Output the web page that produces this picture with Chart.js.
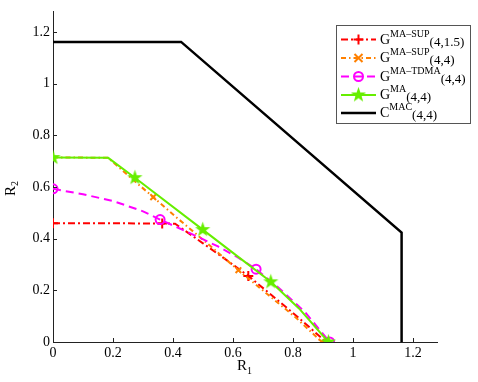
<!DOCTYPE html>
<html>
<head>
<meta charset="utf-8">
<script src="https://cdn.jsdelivr.net/npm/chart.js@4.4.1/dist/chart.umd.min.js"></script>
<style>
  html, body { margin: 0; padding: 0; background: #fff; }
  #wrap { width: 478px; height: 382px; }
</style>
</head>
<body>
<div id="wrap"><canvas id="rates" width="478" height="382"></canvas></div>
<script>
const xTicks = [0, 0.2, 0.4, 0.6, 0.8, 1, 1.2];
const yTicks = [0, 0.2, 0.4, 0.6, 0.8, 1, 1.2];

// G^{MA-SUP}(4,1.5)
const supLowR1 = [0, 0.364, 0.407, 0.5, 0.58, 0.651, 0.73, 0.82, 0.91];
const supLowR2 = [0.46, 0.459, 0.458, 0.382, 0.316, 0.256, 0.18, 0.093, 0];
const supLowMarkR1 = [0, 0.364, 0.651, 0.91];
const supLowMarkR2 = [0.46, 0.459, 0.256, 0];

// G^{MA-SUP}(4,4)
const supR1 = [0, 0.184, 0.27, 0.334, 0.42, 0.5, 0.618, 0.72, 0.81, 0.896];
const supR2 = [0.715, 0.713, 0.625, 0.561, 0.474, 0.396, 0.278, 0.18, 0.094, 0];
const supMarkR1 = [0.334, 0.618, 0.896];
const supMarkR2 = [0.561, 0.278, 0];

// G^{MA-TDMA}(4,4)
const tdmaR1 = [0, 0.1, 0.2, 0.3, 0.357, 0.45, 0.55, 0.62, 0.677, 0.75, 0.84, 0.922];
const tdmaR2 = [0.593, 0.572, 0.546, 0.506, 0.474, 0.425, 0.37, 0.325, 0.282, 0.212, 0.116, 0];
const tdmaMarkR1 = [0, 0.357, 0.677, 0.922];
const tdmaMarkR2 = [0.593, 0.474, 0.282, 0];

// G^{MA}(4,4)
const maR1 = [0, 0.184, 0.273, 0.499, 0.6, 0.726, 0.82, 0.918];
const maR2 = [0.714, 0.713, 0.636, 0.435, 0.345, 0.233, 0.13, 0];
const maMarkR1 = [0, 0.273, 0.499, 0.726, 0.918];
const maMarkR2 = [0.714, 0.636, 0.435, 0.233, 0];

// C^{MAC}(4,4)
const macR1 = [0, 0.427, 1.162, 1.162];
const macR2 = [1.162, 1.162, 0.424, 0];

const legendNames = [
  ['G', 'MA\u2013SUP', '(4,1.5)'],
  ['G', 'MA\u2013SUP', '(4,4)'],
  ['G', 'MA\u2013TDMA', '(4,4)'],
  ['G', 'MA', '(4,4)'],
  ['C', 'MAC', '(4,4)'],
];

const SERIF = '"Liberation Serif", "Times New Roman", serif';
const pts = (xs, ys) => xs.map((x, i) => ({ x, y: ys[i] }));

function starImage(color) {
  const c = document.createElement('canvas');
  c.width = 17; c.height = 17;
  const g = c.getContext('2d');
  g.beginPath();
  for (let i = 0; i < 10; i++) {
    const r = i % 2 ? 3.2 : 8;
    const a = -Math.PI / 2 + i * Math.PI / 5;
    g.lineTo(8.5 + r * Math.cos(a), 8.5 + r * Math.sin(a));
  }
  g.closePath();
  g.fillStyle = color;
  g.fill();
  return c;
}
const star = starImage('#66ee00');

const styles = [
  { color: '#ff0000', dash: [7, 3, 2, 3], width: 2, marker: 'cross', r: 5, z: 5 },
  { color: '#ff8000', dash: [5, 3, 1.5, 3], width: 2, marker: 'crossRot', r: 4, z: 4 },
  { color: '#ff00ff', dash: [8, 5], width: 2, marker: 'circle', r: 4.5, z: 3 },
  { color: '#66ee00', dash: [], width: 2, marker: star, r: 8, z: 2 },
  { color: '#000000', dash: [], width: 2.5, marker: null, r: 0, z: 1 },
];

const curves = [
  [pts(supLowR1, supLowR2), pts(supLowMarkR1, supLowMarkR2)],
  [pts(supR1, supR2), pts(supMarkR1, supMarkR2)],
  [pts(tdmaR1, tdmaR2), pts(tdmaMarkR1, tdmaMarkR2)],
  [pts(maR1, maR2), pts(maMarkR1, maMarkR2)],
  [pts(macR1, macR2), []],
];

const datasets = [];
curves.forEach(([line, marks], i) => {
  const s = styles[i];
  datasets.push({
    data: line, showLine: true, borderColor: s.color, borderWidth: s.width,
    borderDash: s.dash, pointRadius: 0, fill: false, order: s.z * 2,
  });
  if (marks.length) {
    datasets.push({
      data: marks, showLine: false, pointStyle: s.marker, pointRadius: s.r,
      borderColor: s.color, pointBorderWidth: 2,
      pointBackgroundColor: 'rgba(0,0,0,0)', order: s.z * 2 - 1,
    });
  }
});

function drawMarker(ctx, s, x, y) {
  if (!s.marker) return;
  ctx.save();
  ctx.setLineDash([]);
  ctx.strokeStyle = s.color;
  ctx.lineWidth = 2;
  ctx.beginPath();
  if (s.marker === 'cross') {
    ctx.moveTo(x - s.r, y); ctx.lineTo(x + s.r, y);
    ctx.moveTo(x, y - s.r); ctx.lineTo(x, y + s.r);
    ctx.stroke();
  } else if (s.marker === 'crossRot') {
    ctx.moveTo(x - s.r, y - s.r); ctx.lineTo(x + s.r, y + s.r);
    ctx.moveTo(x - s.r, y + s.r); ctx.lineTo(x + s.r, y - s.r);
    ctx.stroke();
  } else if (s.marker === 'circle') {
    ctx.arc(x, y, s.r, 0, Math.PI * 2);
    ctx.stroke();
  } else {
    ctx.drawImage(s.marker, x - s.marker.width / 2, y - s.marker.height / 2);
  }
  ctx.restore();
}

function richText(ctx, x, y, base, sup, sub) {
  ctx.font = '14px ' + SERIF;
  ctx.fillText(base, x, y + 4);
  x += ctx.measureText(base).width;
  ctx.font = '10px ' + SERIF;
  ctx.fillText(sup, x, y - 3);
  const w = ctx.measureText(sup).width;
  ctx.font = '13px ' + SERIF;
  ctx.fillText(sub, x + w, y + 6);
}

const overlay = {
  id: 'overlay',
  afterDraw(chart) {
    const ctx = chart.ctx;
    const a = chart.chartArea;
    const xs = chart.scales.x, ys = chart.scales.y;
    ctx.save();
    // inward ticks
    ctx.strokeStyle = '#222';
    ctx.lineWidth = 1;
    ctx.beginPath();
    xTicks.forEach(v => {
      const p = Math.round(xs.getPixelForValue(v)) + 0.5;
      ctx.moveTo(p, a.bottom); ctx.lineTo(p, a.bottom - 4);
    });
    yTicks.forEach(v => {
      const p = Math.round(ys.getPixelForValue(v)) + 0.5;
      ctx.moveTo(a.left, p); ctx.lineTo(a.left + 4, p);
    });
    ctx.stroke();

    // axis titles
    ctx.fillStyle = '#000';
    ctx.textAlign = 'left';
    ctx.textBaseline = 'alphabetic';
    ctx.font = '15px ' + SERIF;
    ctx.fillText('R', 237, 370);
    ctx.font = '10px ' + SERIF;
    ctx.fillText('1', 247, 374);
    ctx.save();
    ctx.translate(15, 186);
    ctx.rotate(-Math.PI / 2);
    ctx.font = '15px ' + SERIF;
    ctx.fillText('R', -10, 0);
    ctx.font = '10px ' + SERIF;
    ctx.fillText('2', 0, 3);
    ctx.restore();

    // legend
    ctx.fillStyle = '#fff';
    ctx.fillRect(336, 25, 135, 99);
    ctx.strokeStyle = '#555';
    ctx.lineWidth = 1;
    ctx.strokeRect(336.5, 25.5, 134, 98);
    const rows = [39.5, 58, 76.5, 95, 113];
    legendNames.forEach((name, i) => {
      const s = styles[i];
      const y = rows[i];
      ctx.save();
      ctx.strokeStyle = s.color;
      ctx.lineWidth = s.width;
      ctx.setLineDash(s.dash);
      ctx.beginPath();
      ctx.moveTo(341, y); ctx.lineTo(376, y);
      ctx.stroke();
      ctx.restore();
      drawMarker(ctx, s, 358.5, y);
      ctx.fillStyle = '#000';
      richText(ctx, 380, y, name[0], name[1], name[2]);
    });
    ctx.restore();
  }
};

const tickFont = { family: SERIF, size: 14 };
new Chart(document.getElementById('rates').getContext('2d'), {
  type: 'scatter',
  data: { datasets },
  options: {
    responsive: false,
    animation: false,
    devicePixelRatio: 1,
    layout: { padding: { top: 10, right: 41, left: 0, bottom: 0 } },
    plugins: { legend: { display: false }, tooltip: { enabled: false } },
    scales: {
      x: {
        type: 'linear', min: 0, max: 1.28,
        afterBuildTicks: s => { s.ticks = xTicks.map(v => ({ value: v })); },
        afterFit: s => { s.height = 40; },
        grid: { display: false, drawTicks: false, tickLength: 0 },
        border: { display: true, color: '#222', width: 1 },
        ticks: { color: '#000', font: tickFont, padding: 3, maxRotation: 0, callback: v => String(v) },
      },
      y: {
        type: 'linear', min: 0, max: 1.28,
        afterBuildTicks: s => { s.ticks = yTicks.map(v => ({ value: v })); },
        afterFit: s => { s.width = 53; },
        grid: { display: false, drawTicks: false, tickLength: 0 },
        border: { display: true, color: '#222', width: 1 },
        ticks: { color: '#000', font: tickFont, padding: 3, callback: v => String(v) },
      },
    },
  },
  plugins: [overlay],
});
</script>
</body>
</html>
